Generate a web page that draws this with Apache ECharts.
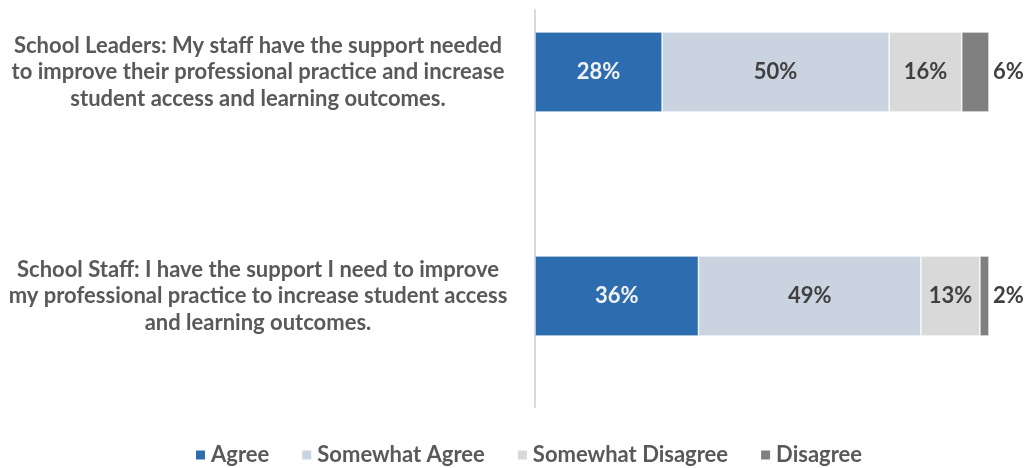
<!DOCTYPE html>
<html>
<head>
<meta charset="utf-8">
<script src="https://cdn.jsdelivr.net/npm/echarts@6/dist/echarts.min.js"></script>
<style>
  html, body { margin: 0; padding: 0; background: #ffffff; }
  #chart { width: 1031px; height: 468px; }
</style>
</head>
<body>
<div id="chart"></div>
<script>
// Survey statements (top to bottom)
const categories = [
  'School Leaders: My staff have the support needed\nto improve their professional practice and increase\nstudent access and learning outcomes.',
  'School Staff: I have the support I need to improve\nmy professional practice to increase student access\nand learning outcomes.'
];

// Response shares, percent
const agree = [28, 36];
const somewhatAgree = [50, 49];
const somewhatDisagree = [16, 13];
const disagree = [6, 2];

const seriesNames = ['Agree', 'Somewhat Agree', 'Somewhat Disagree', 'Disagree'];
const seriesColors = ['#2E6CB0', '#C9D4E0', '#D9D9D9', '#808080'];

const FONT = 'Lato, "Open Sans", sans-serif';
const TEXT = '#595959';
const LABEL_DARK = '#404040';
const FS = 22;

function barSeries(name, data, color, labelOpts) {
  return {
    name: name,
    type: 'bar',
    stack: 'total',
    xAxisIndex: 0,
    yAxisIndex: 0,
    barWidth: 80,
    clip: false,
    data: data,
    itemStyle: { color: color, borderColor: '#ffffff', borderWidth: 0.6 },
    label: Object.assign({
      show: true,
      position: 'inside',
      formatter: '{c}%',
      fontFamily: FONT,
      fontWeight: 'bold',
      fontSize: FS,
      color: LABEL_DARK
    }, labelOpts || {})
  };
}

const chart = echarts.init(document.getElementById('chart'), null, { renderer: 'canvas' });

chart.setOption({
  animation: false,
  backgroundColor: '#ffffff',
  textStyle: { fontFamily: FONT },
  grid: [
    // statements sit on the top and bottom edges of this frame
    { left: 535, right: 42, top: 72, bottom: 172, containLabel: false },
    // frame that carries the visible vertical axis line
    { left: 535, right: 42, top: 10, bottom: 61, containLabel: false }
  ],
  xAxis: [
    { type: 'value', gridIndex: 0, min: 0, max: 100, show: false },
    { type: 'value', gridIndex: 1, min: 0, max: 100, show: false }
  ],
  yAxis: [
    {
      type: 'category',
      gridIndex: 0,
      inverse: true,
      boundaryGap: false,
      data: categories,
      axisLine: { show: false },
      axisTick: { show: false },
      splitLine: { show: false },
      axisLabel: {
        align: 'center',
        margin: 277,
        color: TEXT,
        fontFamily: FONT,
        fontWeight: 'bold',
        fontSize: FS,
        lineHeight: 26.5
      }
    },
    {
      type: 'category',
      gridIndex: 1,
      data: [''],
      axisLine: { show: true, lineStyle: { color: '#D9D9D9', width: 2 } },
      axisTick: { show: false },
      axisLabel: { show: false },
      splitLine: { show: false }
    }
  ],
  legend: {
    bottom: -3,
    left: 189,
    icon: 'rect',
    itemWidth: 11,
    itemHeight: 11,
    itemGap: 31,
    data: seriesNames,
    textStyle: {
      color: TEXT,
      fontFamily: FONT,
      fontWeight: 'bold',
      fontSize: FS,
      padding: [0, 0, 0, 0]
    }
  },
  series: [
    barSeries(seriesNames[0], agree, seriesColors[0], { color: '#F2F2F2' }),
    barSeries(seriesNames[1], somewhatAgree, seriesColors[1]),
    barSeries(seriesNames[2], somewhatDisagree, seriesColors[2]),
    barSeries(seriesNames[3], disagree, seriesColors[3], { position: 'right', distance: 4 })
  ]
});
</script>
</body>
</html>
